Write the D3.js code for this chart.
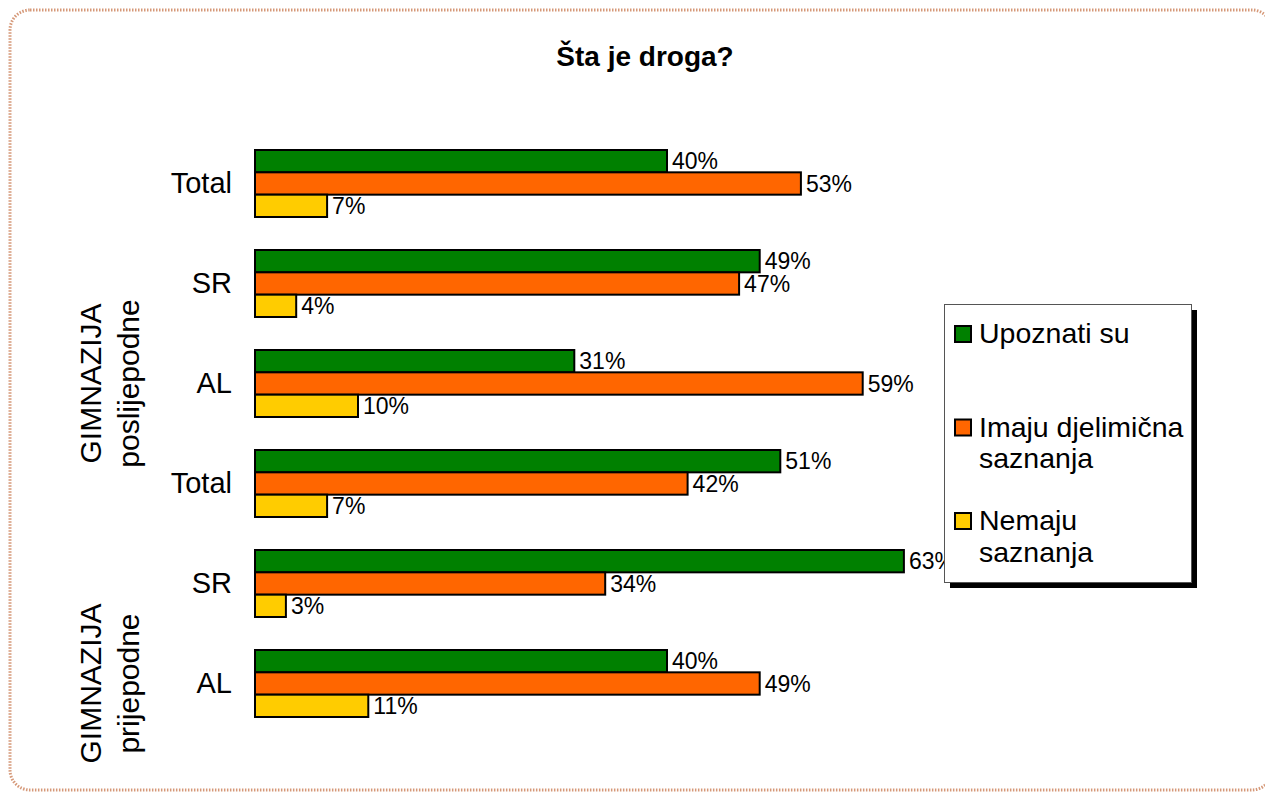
<!DOCTYPE html>
<html>
<head>
<meta charset="utf-8">
<script src="https://cdn.jsdelivr.net/npm/d3@7/dist/d3.min.js"></script>
<style>
  html, body { margin: 0; padding: 0; background: #ffffff; }
  svg { display: block; }
  text { font-family: "Liberation Sans", Arial, sans-serif; fill: #000; }
</style>
</head>
<body>
<svg id="chart" width="1265" height="792"></svg>
<script>
// ---- data ----
const title = "Šta je droga?";
const categories = ["Total", "SR", "AL", "Total", "SR", "AL"];
const seriesNames = ["Upoznati su", "Imaju djelimična saznanja", "Nemaju saznanja"];
const upoznati = [40, 49, 31, 51, 63, 40];
const djelimicna = [53, 47, 59, 42, 34, 49];
const nemaju = [7, 4, 10, 7, 3, 11];
const groupLine1 = ["GIMNAZIJA", "GIMNAZIJA"];
const groupLine2 = ["poslijepodne", "prijepodne"];
const groupAnchor = [2, 5];   // category index the group label is centred on
const legendLines = [["Upoznati su"], ["Imaju djelimična", "saznanja"], ["Nemaju", "saznanja"]];
const colors = ["#008000", "#FF6600", "#FFCC00"];

const seriesValues = [upoznati, djelimicna, nemaju];

const svg = d3.select("#chart");

// outer dotted rounded border
svg.append("rect")
  .attr("x", 10).attr("y", 10)
  .attr("width", 1262).attr("height", 780)
  .attr("rx", 20).attr("ry", 20)
  .attr("fill", "none")
  .attr("stroke", "#d59878")
  .attr("stroke-width", 3)
  .attr("stroke-dasharray", "1.5,1.5");

// title
svg.append("text")
  .attr("x", 645).attr("y", 66)
  .attr("text-anchor", "middle")
  .style("font-size", "28px").style("font-weight", "bold")
  .text(title);

// scales
const x = d3.scaleLinear().domain([0, 70]).range([255, 976]);
const y = d3.scaleBand().domain(d3.range(categories.length))
  .range([133.5, 733.5]).paddingInner(0.33).paddingOuter(0.165);
const ySub = d3.scaleBand().domain(d3.range(seriesNames.length))
  .range([0, y.bandwidth()]).padding(0);

// category axis
const yAxis = d3.axisLeft(y).tickSize(0).tickPadding(23)
  .tickFormat(i => categories[i]);
const gAxis = svg.append("g").attr("transform", `translate(${x(0)},0)`).call(yAxis);
gAxis.select(".domain").remove();
gAxis.selectAll("text")
  .style("font-family", '"Liberation Sans", Arial, sans-serif')
  .style("font-size", "29px").attr("fill", "#000");

// bars
const rows = [];
categories.forEach((c, ci) => {
  seriesValues.forEach((vals, si) => rows.push({ ci, si, v: vals[ci] }));
});

svg.append("g").selectAll("rect").data(rows).join("rect")
  .attr("x", x(0))
  .attr("y", d => y(d.ci) + ySub(d.si))
  .attr("width", d => x(d.v) - x(0))
  .attr("height", ySub.bandwidth())
  .attr("fill", d => colors[d.si])
  .attr("stroke", "#000")
  .attr("stroke-width", 2);

// value labels
svg.append("g").selectAll("text").data(rows).join("text")
  .attr("x", d => x(d.v) + 5)
  .attr("y", d => y(d.ci) + ySub(d.si) + ySub.bandwidth() / 2 + 8)
  .style("font-size", "23px")
  .text(d => d.v + "%");

// group labels (rotated)
groupLine1.forEach((l1, gi) => {
  const cy = y(groupAnchor[gi]) + y.bandwidth() / 2;
  svg.append("text")
    .attr("transform", `translate(101,${cy}) rotate(-90)`)
    .attr("text-anchor", "middle")
    .style("font-size", "30px")
    .text(l1);
  svg.append("text")
    .attr("transform", `translate(139,${cy}) rotate(-90)`)
    .attr("text-anchor", "middle")
    .style("font-size", "30px")
    .text(groupLine2[gi]);
});

// legend
const lg = svg.append("g");
lg.append("rect").attr("x", 950).attr("y", 310).attr("width", 247).attr("height", 278).attr("fill", "#000");
lg.append("rect").attr("x", 944.5).attr("y", 304.5).attr("width", 247).attr("height", 278)
  .attr("fill", "#fff").attr("stroke", "#555").attr("stroke-width", 1);
legendLines.forEach((lines, i) => {
  const top = 326 + i * 93.5;
  lg.append("rect").attr("x", 955).attr("y", top).attr("width", 16).attr("height", 16)
    .attr("fill", colors[i]).attr("stroke", "#000").attr("stroke-width", 2);
  lines.forEach((t, li) => {
    lg.append("text").attr("x", 979).attr("y", top + 17 + li * 31.5)
      .style("font-size", "28.5px").text(t);
  });
});
</script>
</body>
</html>
